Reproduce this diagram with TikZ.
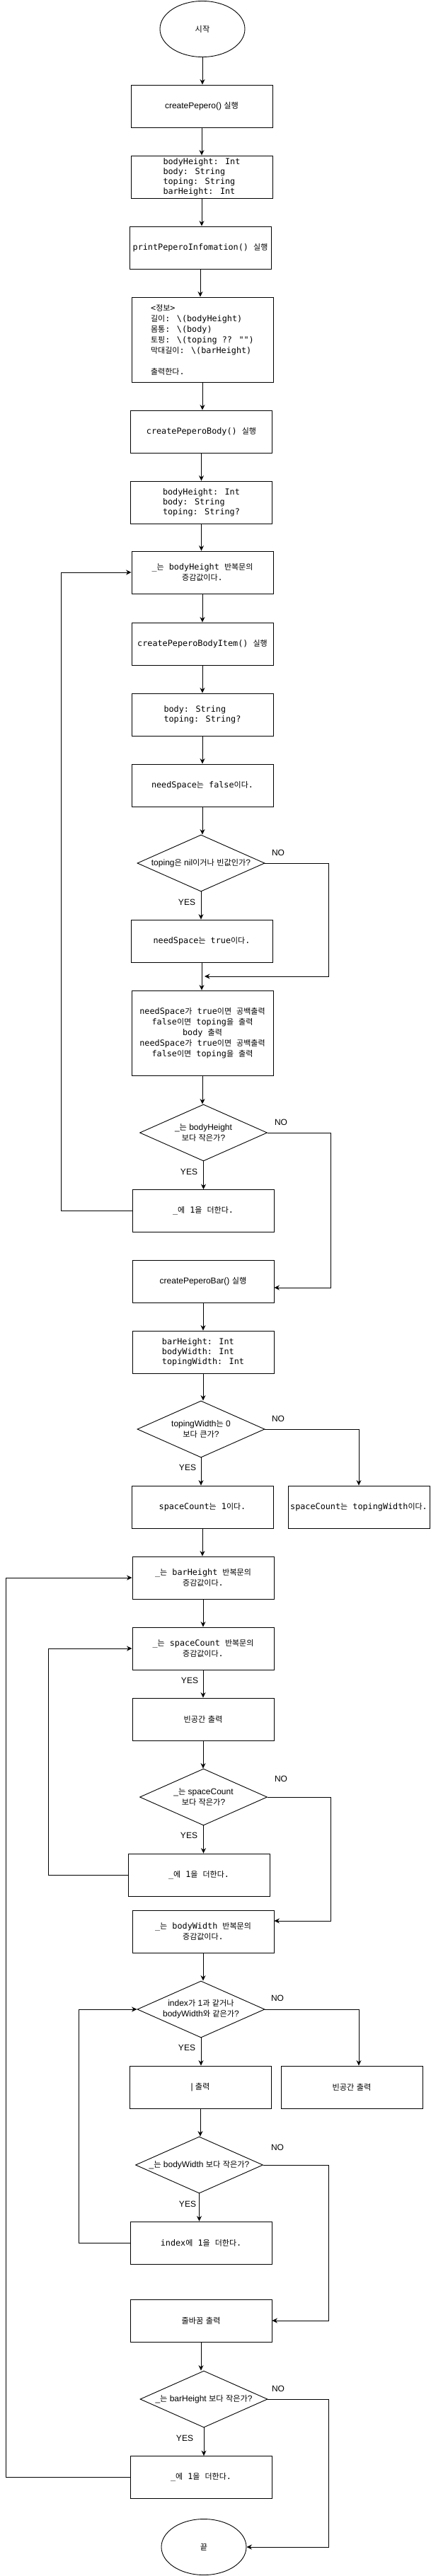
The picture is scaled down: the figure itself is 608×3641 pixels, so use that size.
\documentclass[tikz,border=0pt]{standalone}
\usepackage{fontspec}
\usetikzlibrary{shapes.geometric,arrows.meta,calc}
\setmainfont{Liberation Sans}
\newfontfamily\monof{DejaVu Sans Mono}
\newfontfamily\krf{Noto Sans CJK KR}[Scale=0.93]
\newcommand\kr[1]{{\krf #1}}
\tikzset{
 base/.style={draw, line width=0.9pt, inner sep=0pt, align=center},
 box/.style={base, rectangle, minimum width=200, minimum height=60},
 tall/.style={box, minimum height=120},
 cond/.style={base, diamond, minimum width=180, minimum height=80, aspect=2.25, font=\fontsize{12}{15}\selectfont},
 term/.style={base, ellipse, minimum width=120, minimum height=79, font=\fontsize{12}{15}\selectfont},
 mono/.style={font=\monof\fontsize{11.8}{14}\selectfont},
 monob/.style={font=\monof\fontsize{11.8}{15}\selectfont},
 sans/.style={font=\fontsize{12}{15}\selectfont},
 arr/.style={line width=0.9pt, -{Stealth[length=7.5pt,width=7pt,inset=2.5pt]}},
 lab/.style={font=\fontsize{12}{14}\selectfont, inner sep=0pt},
}
\begin{document}
\begin{tikzpicture}[x=1pt,y=-1pt]
\fill[white] (0,0) rectangle (608,3641);
\useasboundingbox (0,0) rectangle (608,3641);

\node[term] (start) at (286,41) {\kr{시작}};
\node[box, sans] (b1) at (285,150) {createPepero() \kr{실행}};
\node[box, mono, align=left] (b2) at (285,250) {bodyHeight: Int\\body: String\\toping: String\\barHeight: Int};
\node[box, mono] (b3) at (283,350) {printPeperoInfomation() \kr{실행}};
\node[tall, monob, align=left] (b4) at (286,480) {<\kr{정보}>\\\kr{길이}: \textbackslash(bodyHeight)\\\kr{몸통}: \textbackslash(body)\\\kr{토핑}: \textbackslash(toping ?? \char34\char34)\\\kr{막대길이}: \textbackslash(barHeight)\\[15pt]\kr{출력한다}.};
\node[box, mono] (b5) at (284.5,610) {createPeperoBody() \kr{실행}};
\node[box, mono, align=left] (b6) at (284.5,710) {bodyHeight: Int\\body: String\\toping: String?};
\node[box, monob] (b7) at (286,809) {\_\kr{는} bodyHeight \kr{반복문의}\\\kr{증감값이다}.};
\node[box, mono] (b8) at (286,910) {createPeperoBodyItem() \kr{실행}};
\node[box, mono, align=left] (b9) at (286,1010) {body: String\\toping: String?};
\node[box, mono] (b10) at (286,1110) {needSpace\kr{는} false\kr{이다}.};
\node[cond] (d1) at (284,1220) {toping\kr{은} nil\kr{이거나} \kr{빈값인가}?};
\node[box, mono] (b11) at (285,1330) {needSpace\kr{는} true\kr{이다}.};
\node[tall, monob] (b12) at (286,1460) {needSpace\kr{가} true\kr{이면} \kr{공백출력}\\false\kr{이면} toping\kr{을} \kr{출력}\\body \kr{출력}\\needSpace\kr{가} true\kr{이면} \kr{공백출력}\\false\kr{이면} toping\kr{을} \kr{출력}};
\node[cond] (d2) at (287.5,1601) {\_\kr{는} bodyHeight\\\kr{보다} \kr{작은가}?};
\node[box, mono] (b13) at (287,1711.5) {\_\kr{에} 1\kr{을} \kr{더한다}.};
\node[box, sans] (b14) at (287,1811) {createPeperoBar() \kr{실행}};
\node[box, mono, align=left] (b15) at (287,1911) {barHeight: Int\\bodyWidth: Int\\topingWidth: Int};
\node[cond] (d3) at (284,2020) {topingWidth\kr{는} 0\\\kr{보다} \kr{큰가}?};
\node[box, mono] (b16) at (286,2130) {spaceCount\kr{는} 1\kr{이다}.};
\node[box, mono] (b17) at (507,2130) {spaceCount\kr{는} topingWidth\kr{이다}.};
\node[box, monob] (b18) at (287,2230) {\_\kr{는} barHeight \kr{반복문의}\\\kr{증감값이다}.};
\node[box, monob] (b19) at (287,2330) {\_\kr{는} spaceCount \kr{반복문의}\\\kr{증감값이다}.};
\node[box, sans] (b20) at (287,2430) {\kr{빈공간} \kr{출력}};
\node[cond] (d4) at (287.5,2540) {\_\kr{는} spaceCount\\\kr{보다} \kr{작은가}?};
\node[box, mono] (b21) at (281,2650) {\_\kr{에} 1\kr{을} \kr{더한다}.};
\node[box, monob] (b22) at (287,2730) {\_\kr{는} bodyWidth \kr{반복문의}\\\kr{증감값이다}.};
\node[cond] (d5) at (284,2840) {index\kr{가} 1\kr{과} \kr{같거나}\\bodyWidth\kr{와} \kr{같은가}?};
\node[box, sans] (b23) at (283,2950) {| \kr{출력}};
\node[box, sans] (b24) at (497,2950) {\kr{빈공간} \kr{출력}};
\node[cond] (d6) at (281.5,3060) {\_\kr{는} bodyWidth \kr{보다} \kr{작은가}?};
\node[box, mono] (b25) at (284,3170) {index\kr{에} 1\kr{을} \kr{더한다}.};
\node[box, sans] (b26) at (284,3280) {\kr{줄바꿈} \kr{출력}};
\node[cond] (d7) at (288,3391) {\_\kr{는} barHeight \kr{보다} \kr{작은가}?};
\node[box, mono] (b27) at (284,3501.5) {\_\kr{에} 1\kr{을} \kr{더한다}.};
\node[term] (end) at (288,3600) {\kr{끝}};

% vertical connectors
\foreach \a/\b in {start/b1,b1/b2,b2/b3,b3/b4,b4/b5,b5/b6,b6/b7,b7/b8,b8/b9,b9/b10,b10/d1,d1/b11,b11/b12,b12/d2,d2/b13,b14/b15,b15/d3,d3/b16,b16/b18,b18/b19,b19/b20,b20/d4,d4/b21,b22/d5,d5/b23,b23/d6,d6/b25,b26/d7,d7/b27}
  \draw[arr] (\a) -- (\a |- \b.north);

% NO branches
\coordinate (c1) at (464,1380);
\coordinate (j1) at (289,1380);
\draw[arr] (d1.east) -| (c1) -- (j1);
\coordinate (c2) at (467,1820);
\draw[arr] (d2.east) -| (c2) -- (c2 -| b14.east);
\draw[arr] (d3.east) -| (b17.north);
\coordinate (c4) at (467,2715);
\draw[arr] (d4.east) -| (c4) -- (c4 -| b22.east);
\coordinate (c5) at (507,2840);
\draw[arr] (d5.east) -- (c5) -- (c5 |- b24.north);
\coordinate (c6) at (464,3280);
\draw[arr] (d6.east) -| (c6) -- (b26.east);
\coordinate (c7) at (464,3600);
\draw[arr] (d7.east) -| (c7) -- (end.east);

% loops
\coordinate (l1) at (86,0);
\draw[arr] (b13.west) -- (b13.west -| l1) |- (b7.west);
\coordinate (l2) at (8,0);
\draw[arr] (b27.west) -- (b27.west -| l2) |- (b18.west);
\coordinate (l3) at (68,0);
\draw[arr] (b21.west) -- (b21.west -| l3) |- (b19.west);
\coordinate (l4) at (111,0);
\draw[arr] (b25.west) -- (b25.west -| l4) |- (d5.west);

% labels
\node[lab] (y1) at (264,1275) {YES};
\node[lab] (y2) at (267,1656) {YES};
\node[lab] (y3) at (265,2074) {YES};
\node[lab] (y4) at (268,2375) {YES};
\node[lab] (y5) at (267,2594) {YES};
\node[lab] (y6) at (264,2894) {YES};
\node[lab] (y7) at (265,3115) {YES};
\node[lab] (y8) at (261,3446) {YES};
\node[lab] (n1) at (393,1205) {NO};
\node[lab] (n2) at (397,1586) {NO};
\node[lab] (n3) at (393,2005) {NO};
\node[lab] (n4) at (397,2514) {NO};
\node[lab] (n5) at (392,2824) {NO};
\node[lab] (n6) at (392,3035) {NO};
\node[lab] (n7) at (393,3376) {NO};
\end{tikzpicture}
\end{document}
